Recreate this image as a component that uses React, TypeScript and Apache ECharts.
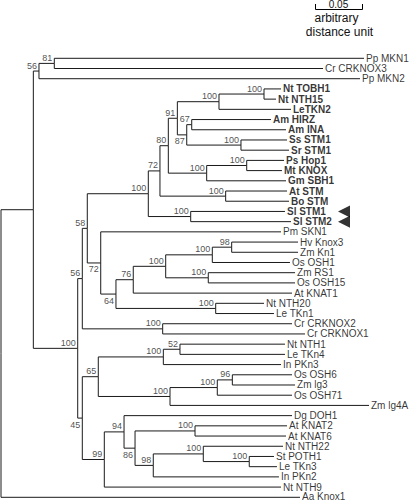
import React, { useEffect, useRef } from "react";
import * as echarts from "echarts";

// Leaves, top to bottom
const leafNames = [
  "Pp MKN1", "Cr CRKNOX3", "Pp MKN2", "Nt TOBH1", "Nt NTH15", "LeTKN2", "Am HIRZ", "Am INA",
  "Ss STM1", "Sr STM1", "Ps Hop1", "Mt KNOX", "Gm SBH1", "At STM", "Bo STM", "Sl STM1", "Sl STM2",
  "Pm SKN1", "Hv Knox3", "Zm Kn1", "Os OSH1", "Zm RS1", "Os OSH15", "At KNAT1", "Nt NTH20", "Le TKn1",
  "Cr CRKNOX2", "Cr CRKNOX1", "Nt NTH1", "Le TKn4", "In PKn3", "Os OSH6", "Zm lg3", "Os OSH71",
  "Zm lg4A", "Dg DOH1", "At KNAT2", "At KNAT6", "Nt NTH22", "St POTH1", "Le TKn3", "In PKn2",
  "Nt NTH9", "Aa Knox1",
];

// Distance from root to each leaf tip (arbitrary distance units)
const leafDepth = [
  0.3862, 0.3426, 0.3819, 0.2979, 0.2926, 0.3085, 0.2872, 0.3032,
  0.3043, 0.3064, 0.3011, 0.2989, 0.3032, 0.3043, 0.3064, 0.3021, 0.3085,
  0.2979, 0.316, 0.316, 0.3074, 0.3128, 0.3128, 0.3096, 0.2798, 0.2904,
  0.3096, 0.3234, 0.3021, 0.3021, 0.2979, 0.3096, 0.3128, 0.3096,
  0.3915, 0.3096, 0.3043, 0.3032, 0.3, 0.2904, 0.2936, 0.2957,
  0.2979, 0.3181,
];

const boldLeaves = [
  "Nt TOBH1", "Nt NTH15", "LeTKN2", "Am HIRZ", "Am INA", "Ss STM1", "Sr STM1", "Ps Hop1",
  "Mt KNOX", "Gm SBH1", "At STM", "Bo STM", "Sl STM1", "Sl STM2",
];

const markedLeaves = ["Sl STM1", "Sl STM2"];
const markerDepth = 0.3649;

// Internal nodes: [id, depth, child1, child2, bootstrap, labelBelow]
const nodes: [string, number, string, string, string, number][] = [
  ["root", 0, "nA", "Aa Knox1", "", 0],
  ["nA", 0.0344, "n56a", "nB", "", 0],
  ["n56a", 0.0404, "n81", "Pp MKN2", "56", 0],
  ["n81", 0.0567, "Pp MKN1", "Cr CRKNOX3", "81", 0],
  ["nB", 0.0816, "nC", "nD", "100", 0],
  ["nC", 0.0865, "n58", "nCR", "56", 0],
  ["n58", 0.0918, "nSTM", "n72b", "58", 0],
  ["nSTM", 0.1567, "n72a", "nSl", "100", 0],
  ["n72a", 0.1691, "n80", "nAtBo", "72", 0],
  ["n80", 0.178, "n91", "nPMG", "80", 0],
  ["n91", 0.1876, "nNL", "n87", "91", 0],
  ["nNL", 0.2319, "nNN", "LeTKN2", "100", 0],
  ["nNN", 0.2798, "Nt TOBH1", "Nt NTH15", "100", 0],
  ["n87", 0.1976, "n67", "nSS", "87", 1],
  ["n67", 0.2029, "Am HIRZ", "Am INA", "67", 0],
  ["nSS", 0.2553, "Ss STM1", "Sr STM1", "100", 0],
  ["nPMG", 0.2188, "nPM", "Gm SBH1", "100", 0],
  ["nPM", 0.2614, "Ps Hop1", "Mt KNOX", "100", 0],
  ["nAtBo", 0.239, "At STM", "Bo STM", "100", 0],
  ["nSl", 0.2018, "Sl STM1", "Sl STM2", "100", 0],
  ["n72b", 0.1061, "Pm SKN1", "n64", "72", 1],
  ["n64", 0.1223, "n76", "nNT", "64", 1],
  ["n76", 0.1407, "nCer", "At KNAT1", "76", 0],
  ["nCer", 0.1752, "nHZO", "nRO", "100", 0],
  ["nHZO", 0.2248, "n98a", "Os OSH1", "100", 0],
  ["n98a", 0.2454, "Hv Knox3", "Zm Kn1", "98", 0],
  ["nRO", 0.2205, "Zm RS1", "Os OSH15", "100", 0],
  ["nNT", 0.2284, "Nt NTH20", "Le TKn1", "100", 0],
  ["nCR", 0.172, "Cr CRKNOX2", "Cr CRKNOX1", "100", 0],
  ["nD", 0.0865, "n65", "n99", "45", 1],
  ["n65", 0.1035, "nN1", "nOS", "65", 0],
  ["nN1", 0.1727, "n52", "In PKn3", "100", 0],
  ["n52", 0.1904, "Nt NTH1", "Le TKn4", "52", 0],
  ["nOS", 0.1798, "nOS3", "Zm lg4A", "100", 0],
  ["nOS3", 0.2301, "n96", "Os OSH71", "100", 0],
  ["n96", 0.2461, "Os OSH6", "Zm lg3", "96", 0],
  ["n99", 0.1099, "n94", "Nt NTH9", "99", 0],
  ["n94", 0.1309, "Dg DOH1", "n86", "94", 0],
  ["n86", 0.1426, "nK26", "n98b", "86", 1],
  ["nK26", 0.2064, "At KNAT2", "At KNAT6", "100", 0],
  ["n98b", 0.162, "nNP", "In PKn2", "98", 0],
  ["nNP", 0.2152, "Nt NTH22", "nPT", "100", 0],
  ["nPT", 0.2641, "St POTH1", "Le TKn3", "100", 0],
];

const scaleValue = 0.05;
const scaleText = "0.05";
const scaleCaption = ["arbitrary", "distance unit"];

const FONT = "'Liberation Sans', Arial, Helvetica, sans-serif";
const X_MAX = 0.4;
const GRID_LEFT = 1;
const GRID_WIDTH = 376;
const GRID_TOP = 58.3;
const GRID_HEIGHT = 439;

export default function App() {
  const ref = useRef<HTMLDivElement>(null);

  useEffect(() => {
    if (!ref.current) return;
    const chart = echarts.init(ref.current, null, { renderer: "svg" });

    const pos: Record<string, { x: number; y: number }> = {};
    leafNames.forEach((n, i) => (pos[n] = { x: leafDepth[i], y: i }));
    const nodeMap: Record<string, (typeof nodes)[number]> = {};
    nodes.forEach((n) => (nodeMap[n[0]] = n));
    const resolve = (id: string): { x: number; y: number } => {
      if (pos[id]) return pos[id];
      const n = nodeMap[id];
      const a = resolve(n[2]);
      const b = resolve(n[3]);
      pos[id] = { x: n[1], y: (a.y + b.y) / 2 };
      return pos[id];
    };
    resolve("root");

    const edges: any[] = [];
    nodes.forEach((n) => {
      const p = pos[n[0]];
      [n[2], n[3]].forEach((c) => {
        const q = pos[c];
        edges.push({ coords: [[p.x, p.y], [p.x, q.y], [q.x, q.y]] });
      });
    });

    const lastIdx = leafNames.length - 1;
    const leafData = leafNames.map((n, i) => {
      const bold = boldLeaves.includes(n);
      return {
        value: [leafDepth[i], i],
        name: n,
        label: {
          fontWeight: bold ? "bold" : "normal",
          offset: i === lastIdx ? [0, -1] : [0, 0],
        },
      };
    });

    const supportAbove = nodes
      .filter((n) => n[4] && !n[5])
      .map((n) => ({ value: [pos[n[0]].x, pos[n[0]].y], name: n[4] }));
    const supportBelow = nodes
      .filter((n) => n[4] && n[5])
      .map((n) => ({ value: [pos[n[0]].x, pos[n[0]].y], name: n[4] }));

    const markerData = markedLeaves.map((n) => [markerDepth, leafNames.indexOf(n)]);

    const pxPerUnit = GRID_WIDTH / X_MAX;
    const barLen = scaleValue * pxPerUnit;
    const barLeft = 315;
    const barY = 9;
    const barMid = barLeft + barLen / 2;

    chart.setOption({
      animation: false,
      backgroundColor: "#ffffff",
      grid: { left: GRID_LEFT, top: GRID_TOP, width: GRID_WIDTH, height: GRID_HEIGHT },
      xAxis: { type: "value", min: 0, max: X_MAX, show: false },
      yAxis: { type: "value", min: 0, max: leafNames.length - 1, inverse: true, show: false },
      series: [
        {
          type: "lines",
          coordinateSystem: "cartesian2d",
          polyline: true,
          silent: true,
          clip: false,
          lineStyle: { color: "#1a1a1a", width: 1, opacity: 1 },
          data: edges,
        },
        {
          type: "scatter",
          symbolSize: 0,
          silent: true,
          clip: false,
          data: leafData,
          label: {
            show: true,
            position: "right",
            distance: 2,
            formatter: (p: any) => p.name,
            fontSize: 10,
            lineHeight: 9,
            fontFamily: FONT,
            color: "#000",
          },
        },
        {
          type: "scatter",
          symbolSize: 0,
          silent: true,
          clip: false,
          data: supportAbove,
          label: {
            show: true,
            position: [-2, -1],
            align: "right",
            verticalAlign: "bottom",
            formatter: (p: any) => p.name,
            fontSize: 9,
            fontFamily: FONT,
            color: "#222",
          },
        },
        {
          type: "scatter",
          symbolSize: 0,
          silent: true,
          clip: false,
          data: supportBelow,
          label: {
            show: true,
            position: [-2, 2],
            align: "right",
            verticalAlign: "top",
            formatter: (p: any) => p.name,
            fontSize: 9,
            fontFamily: FONT,
            color: "#222",
          },
        },
        {
          type: "scatter",
          symbol: "triangle",
          symbolSize: 12,
          symbolRotate: 90,
          silent: true,
          itemStyle: { color: "#000" },
          data: markerData,
        },
      ],
      graphic: [
        {
          type: "polyline",
          silent: true,
          shape: {
            points: [
              [barLeft + 0.5, barY - 5],
              [barLeft + 0.5, barY + 0.5],
              [barLeft + barLen + 0.5, barY + 0.5],
              [barLeft + barLen + 0.5, barY - 5],
            ],
          },
          style: { stroke: "#000", lineWidth: 1, fill: null },
        },
        {
          type: "text",
          silent: true,
          x: barMid,
          y: 4.5,
          style: {
            text: scaleText,
            fontSize: 10,
            fontFamily: FONT,
            fill: "#111",
            align: "center",
            verticalAlign: "middle",
          },
        },
        {
          type: "text",
          silent: true,
          x: barMid - 2,
          y: 18,
          style: {
            text: scaleCaption[0],
            fontSize: 12,
            fontFamily: FONT,
            fill: "#111",
            align: "center",
            verticalAlign: "middle",
          },
        },
        {
          type: "text",
          silent: true,
          x: barMid + 1,
          y: 32,
          style: {
            text: scaleCaption[1],
            fontSize: 12,
            fontFamily: FONT,
            fill: "#111",
            align: "center",
            verticalAlign: "middle",
          },
        },
      ],
    });

    return () => chart.dispose();
  }, []);

  return (
    <div
      ref={ref}
      style={{ position: "absolute", left: 0, top: 0, width: 410, height: 501 }}
    />
  );
}
